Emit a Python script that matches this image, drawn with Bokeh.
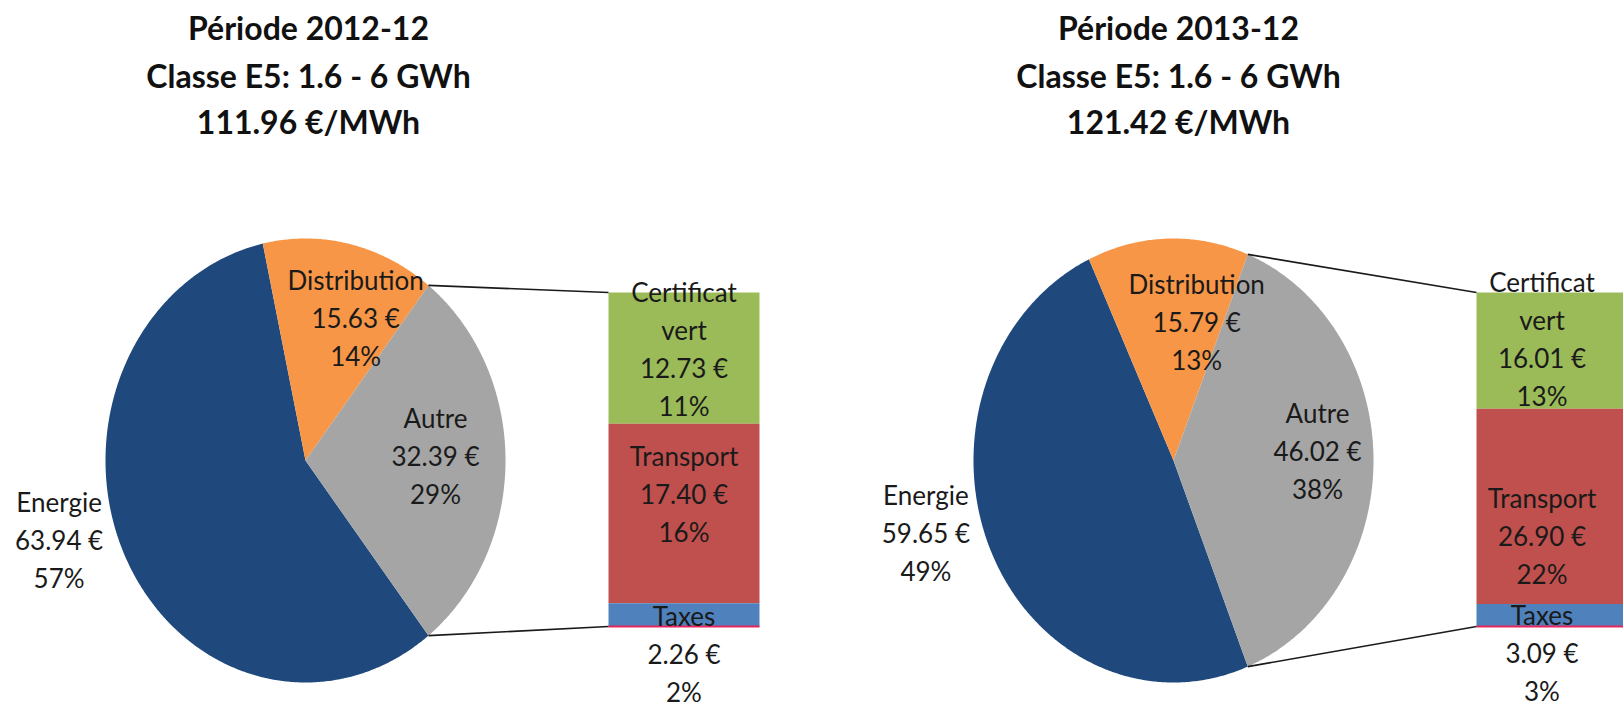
import math
from bokeh.plotting import figure
from bokeh.models import Range1d
from bokeh.embed import file_html
from bokeh.resources import INLINE
from bokeh.core.properties import value

# ---------------- data ----------------
periods = ["Période 2012-12", "Période 2013-12"]
classes = ["Classe E5: 1.6 - 6 GWh", "Classe E5: 1.6 - 6 GWh"]
prices = ["111.96 €/MWh", "121.42 €/MWh"]

pie_names = ["Energie", "Distribution", "Autre"]
pie_2012 = [63.94, 15.63, 32.39]
pie_2013 = [59.65, 15.79, 46.02]

bar_names = ["Certificat vert", "Transport", "Taxes"]   # top to bottom
bar_2012 = [12.73, 17.40, 2.26]
bar_2013 = [16.01, 26.90, 3.09]

pie_colors = ["#1F497D", "#F79646", "#A5A5A5"]
bar_colors = ["#9BBB59", "#C0504D", "#4F81BD"]

# ---------------- layout (styles) ----------------
W, H = 1623, 709
CX = [305, 1173]
CY, RX, RY = 460, 200, 222
BAR_DX, BAR_W = 303, 151
BAR_TOP, BAR_BOTTOM = 292, 626
TITLE_Y = [27, 75, 121]
TITLE_DX = [3, 5]
LINE_H = 38
FONT = "Lato"
R_IN, R_OUT = 0.68, 1.3
# label nudges (px) relative to geometric anchors
PIE_NUDGE = [
    {"Energie": (-11, -43), "Distribution": (20, 5), "Autre": (-6, -5)},
    {"Energie": (-9, -42), "Distribution": (27, 12), "Autre": (8, -10)},
]
BAR_NUDGE = [
    {"Certificat vert": (0, -9), "Transport": (0, -19), "Taxes": (0, 39)},
    {"Certificat vert": (-10, -12), "Transport": (-10, 30), "Taxes": (-10, 38)},
]

p = figure(width=W, height=H, x_range=Range1d(0, W), y_range=Range1d(H, 0),
           output_backend="svg", toolbar_location=None, min_border=0,
           x_axis_type=None, y_axis_type=None, background_fill_color="white",
           border_fill_color="white")
p.grid.visible = False
p.outline_line_color = None


def ell_pt(cx, a):
    r = math.radians(a)
    return cx + RX * math.sin(r), CY - RY * math.cos(r)


def add_text(xs, ys, texts, size, bold=False, color="#1a1a1a"):
    p.text(x=xs, y=ys, text=texts, text_font=value(FONT), text_font_size=size,
           text_font_style="bold" if bold else "normal", text_align="center",
           text_baseline="middle", text_color=color)


def label_block(x, y, lines):
    n = len(lines)
    ys = [y + (i - (n - 1) / 2) * LINE_H for i in range(n)]
    add_text([x] * n, ys, lines, "26px")


for k, (pie_vals, bar_vals) in enumerate([(pie_2012, bar_2012), (pie_2013, bar_2013)]):
    cx = CX[k]
    total = sum(pie_vals)
    degs = [v / total * 360.0 for v in pie_vals]
    # the "Autre" slice (last) is centred on the right side (90 deg)
    start = 90.0 - degs[2] / 2 - degs[1] - degs[0]
    xs_all, ys_all, angles = [], [], []
    a0 = start
    for d in degs:
        a1 = a0 + d
        n = max(4, int(d * 2))
        pts = [ell_pt(cx, a0 + (a1 - a0) * i / n) for i in range(n + 1)]
        xs_all.append([cx] + [q[0] for q in pts])
        ys_all.append([CY] + [q[1] for q in pts])
        angles.append((a0, a1))
        a0 = a1
    p.patches(xs_all, ys_all, fill_color=pie_colors, line_color=None)

    # pie labels
    for name, v, (a0, a1) in zip(pie_names, pie_vals, angles):
        mid = math.radians((a0 + a1) / 2)
        r = R_OUT if name == "Energie" else R_IN
        lx = cx + r * RX * math.sin(mid) + PIE_NUDGE[k][name][0]
        ly = CY - r * RY * math.cos(mid) + PIE_NUDGE[k][name][1]
        label_block(lx, ly, [name, f"{v:.2f} €", f"{round(100 * v / total)}%"])

    # bar of pie (stacked), on its own value range
    bar_total = sum(bar_vals)
    s = (BAR_BOTTOM - BAR_TOP) / bar_total
    rname = f"bar{k}"
    p.extra_y_ranges[rname] = Range1d(start=(BAR_BOTTOM - H) / s, end=BAR_BOTTOM / s)
    bar_left = cx + BAR_DX
    bar_cx = bar_left + BAR_W / 2
    bottoms, tops = [], []
    acc = 0.0
    for v in reversed(bar_vals):
        bottoms.insert(0, acc)
        acc += v
        tops.insert(0, acc)
    p.vbar(x=[bar_cx] * 3, width=BAR_W, bottom=bottoms, top=tops,
           fill_color=bar_colors, line_color=None, y_range_name=rname)
    p.segment(x0=[bar_left], y0=[0], x1=[bar_left + BAR_W], y1=[0],
              line_color="#E8265E", line_width=2, y_range_name=rname)

    # bar labels
    for name, v, b, t in zip(bar_names, bar_vals, bottoms, tops):
        seg_mid = BAR_BOTTOM - (b + t) / 2 * s
        lx = bar_cx + BAR_NUDGE[k][name][0]
        ly = seg_mid + BAR_NUDGE[k][name][1]
        label_block(lx, ly, name.split(" ") + [f"{v:.2f} €", f"{round(100 * v / total)}%"])

    # connector lines
    a_start, a_end = angles[2]
    x0, y0 = ell_pt(cx, a_start)
    x1, y1 = ell_pt(cx, a_end)
    p.segment(x0=[x0, x1], y0=[y0, y1], x1=[bar_left, bar_left], y1=[BAR_TOP, BAR_BOTTOM],
              line_color="#1a1a1a", line_width=1.6)

    # title
    tx = cx + TITLE_DX[k]
    add_text([tx] * 3, TITLE_Y, [periods[k], classes[k], prices[k]], "32px", bold=True, color="#111111")

open("out.html", "w").write(file_html(p, INLINE))
